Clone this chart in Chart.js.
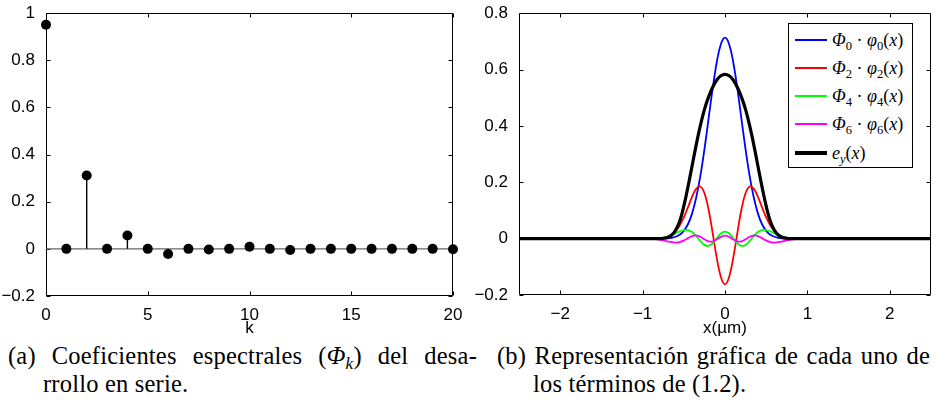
<!DOCTYPE html>
<html>
<head>
<meta charset="utf-8">
<script src="https://cdn.jsdelivr.net/npm/chart.js@4.4.1/dist/chart.umd.min.js"></script>
<style>
    body { margin: 0; width: 938px; height: 417px; background: #fff; position: relative; overflow: hidden; }
    #chartA { position: absolute; left: 0; top: 0; }
    #chartB { position: absolute; left: 470px; top: 0; }
    .cap { position: absolute; font-family: "Liberation Serif", serif; font-size: 24.5px; line-height: 27px; letter-spacing: 0.2px; color: #000; white-space: nowrap; }
    .cap.full { text-align: justify; text-align-last: justify; white-space: normal; height: 27px; overflow: visible; }
    .cap sub, #legend sub { font-size: 70%; vertical-align: -0.28em; line-height: 0; }
    #legend { position: absolute; left: 788px; top: 23px; width: 125px; height: 145px; box-sizing: border-box;
              border: 1px solid #000; background: #fff; font-family: "Liberation Serif", serif; font-size: 18px; }
    #legend .row { position: absolute; left: 0; height: 20px; line-height: 20px; white-space: nowrap; }
    #legend .swatch { position: absolute; left: 6px; width: 32px; top: 50%; }
    #legend .label { position: absolute; left: 43px; top: 0; }
</style>
</head>
<body>
<canvas id="chartA" width="470" height="340"></canvas>
<canvas id="chartB" width="468" height="340"></canvas>
<div id="legend"></div>

<div class="cap full" style="left:8px; top:342px; width:469px;">(a) Coeficientes espectrales (<i>Φ<sub>k</sub></i>) del desa-</div>
<div class="cap" style="left:43px; top:370px;">rrollo en serie.</div>
<div class="cap full" style="left:497px; top:342px; width:433px;">(b) Representación gráfica de cada uno de</div>
<div class="cap" style="left:533px; top:370px;">los términos de (1.2).</div>

<script>
// Panel (a): spectral coefficients
const kValues = [0, 1, 2, 3, 4, 5, 6, 7, 8, 9, 10, 11, 12, 13, 14, 15, 16, 17, 18, 19, 20];
const coeffs = [0.951, 0, 0.311, 0, 0.057, 0, -0.022, 0, -0.003, 0, 0.009, 0, -0.005, 0, 0, 0, 0, 0, 0, 0, -0.002];
const xTicksA = [0, 5, 10, 15, 20];
const xLabelsA = ['0', '5', '10', '15', '20'];
const yTicksA = [-0.2, 0, 0.2, 0.4, 0.6, 0.8, 1];
const yLabelsA = ['\u22120.2', '0', '0.2', '0.4', '0.6', '0.8', '1'];

// Panel (b): terms of the series
const xPos = [-2.5, -1.0, -0.9, -0.85, -0.8, -0.75, -0.7, -0.65, -0.6, -0.55, -0.5, -0.45, -0.4, -0.35, -0.3, -0.25, -0.2, -0.15, -0.1, -0.05,
              0, 0.05, 0.1, 0.15, 0.2, 0.25, 0.3, 0.35, 0.4, 0.45, 0.5, 0.55, 0.6, 0.65, 0.7, 0.75, 0.8, 0.85, 0.9, 1.0, 2.5];
const term0 = [0, 0, 0, 0.0001, 0.0002, 0.0005, 0.0012, 0.0029, 0.0066, 0.0139, 0.0275, 0.0511, 0.0888, 0.145, 0.221, 0.316, 0.424, 0.532, 0.626, 0.690,
               0.713, 0.690, 0.626, 0.532, 0.424, 0.316, 0.221, 0.145, 0.0888, 0.0511, 0.0275, 0.0139, 0.0066, 0.0029, 0.0012, 0.0005, 0.0002, 0.0001, 0, 0, 0];
const term2 = [0, 0, 0.0002, 0.0005, 0.0013, 0.0030, 0.0067, 0.0139, 0.0265, 0.0466, 0.0752, 0.1108, 0.1480, 0.1768, 0.1850, 0.1619, 0.1042, 0.0207, -0.0682, -0.1364,
               -0.162, -0.1364, -0.0682, 0.0207, 0.1042, 0.1619, 0.1850, 0.1768, 0.1480, 0.1108, 0.0752, 0.0466, 0.0265, 0.0139, 0.0067, 0.0030, 0.0013, 0.0005, 0.0002, 0, 0];
const term4 = [0, 0, 0.0003, 0.0008, 0.0018, 0.0038, 0.0071, 0.0122, 0.0187, 0.0256, 0.0306, 0.0306, 0.0235, 0.0092, -0.0082, -0.0221, -0.0257, -0.0166, 0.0011, 0.0182,
               0.0252, 0.0182, 0.0011, -0.0166, -0.0257, -0.0221, -0.0082, 0.0092, 0.0235, 0.0306, 0.0306, 0.0256, 0.0187, 0.0122, 0.0071, 0.0038, 0.0018, 0.0008, 0.0003, 0, 0];
const term6 = [0, 0, -0.0009, -0.0019, -0.0037, -0.0063, -0.0095, -0.0125, -0.0138, -0.0120, -0.0063, 0.0018, 0.0090, 0.0112, 0.0066, -0.0022, -0.0094, -0.0098, -0.0028, 0.0064,
               0.0105, 0.0064, -0.0028, -0.0098, -0.0094, -0.0022, 0.0066, 0.0112, 0.0090, 0.0018, -0.0063, -0.0120, -0.0138, -0.0125, -0.0095, -0.0063, -0.0037, -0.0019, -0.0009, 0, 0];
const eyField = [0, 0, 0, 0, 0, 0.001, 0.004, 0.012, 0.030, 0.062, 0.115, 0.183, 0.257, 0.332, 0.400, 0.458, 0.502, 0.537, 0.563, 0.578,
                 0.583, 0.578, 0.563, 0.537, 0.502, 0.458, 0.400, 0.332, 0.257, 0.183, 0.115, 0.062, 0.030, 0.012, 0.004, 0.001, 0, 0, 0, 0, 0];
const xTicksB = [-2, -1, 0, 1, 2];
const xLabelsB = ['\u22122', '\u22121', '0', '1', '2'];
const yTicksB = [-0.2, 0, 0.2, 0.4, 0.6, 0.8];
const yLabelsB = ['\u22120.2', '0', '0.2', '0.4', '0.6', '0.8'];
const seriesNames = [
    '<i>Φ</i><sub>0</sub> · <i>φ</i><sub>0</sub>(<i>x</i>)',
    '<i>Φ</i><sub>2</sub> · <i>φ</i><sub>2</sub>(<i>x</i>)',
    '<i>Φ</i><sub>4</sub> · <i>φ</i><sub>4</sub>(<i>x</i>)',
    '<i>Φ</i><sub>6</sub> · <i>φ</i><sub>6</sub>(<i>x</i>)',
    '<i>e<sub>y</sub></i>(<i>x</i>)'
];
const seriesColors = ['#0000ff', '#ff0000', '#00ff00', '#ff00ff', '#000000'];

const tickFont = { family: '"Liberation Sans", Arial, sans-serif', size: 17 };

// box around the plot with inward ticks on all sides (MATLAB look)
const framePlugin = {
    id: 'frame',
    beforeDatasetsDraw(chart) {
        const { ctx, chartArea: a, scales } = chart;
        const L = Math.round(a.left) + 0.5, R = Math.round(a.right) - 0.5;
        const T = Math.round(a.top) + 0.5, B = Math.round(a.bottom) - 0.5;
        ctx.save();
        ctx.strokeStyle = '#000';
        ctx.lineWidth = 1;
        ctx.beginPath();
        ctx.rect(L, T, R - L, B - T);
        scales.x.ticks.forEach(t => {
            const px = Math.round(scales.x.getPixelForValue(t.value)) + 0.5;
            ctx.moveTo(px, B); ctx.lineTo(px, B - 4);
            ctx.moveTo(px, T); ctx.lineTo(px, T + 4);
        });
        scales.y.ticks.forEach(t => {
            const py = Math.round(scales.y.getPixelForValue(t.value)) + 0.5;
            ctx.moveTo(L, py); ctx.lineTo(L + 4, py);
            ctx.moveTo(R, py); ctx.lineTo(R - 4, py);
        });
        ctx.stroke();
        ctx.restore();
    }
};

function makeScale(min, max, tickVals, tickLabels, fitSize, isX, title) {
    return {
        type: 'linear',
        min: min,
        max: max,
        grid: { display: false },
        border: { display: false },
        afterBuildTicks: s => { s.ticks = tickVals.map(v => ({ value: v })); },
        afterFit: s => { if (isX) s.height = fitSize; else s.width = fitSize; },
        ticks: {
            color: '#000',
            font: tickFont,
            padding: isX ? 1 : 3,
            autoSkip: false,
            maxRotation: 0,
            callback: (v, i) => tickLabels[i]
        },
        title: title ? { display: true, text: title, color: '#000', font: tickFont, padding: { top: 0, bottom: 1 } } : { display: false }
    };
}

// stems: vertical segment from 0 to each coefficient, broken by nulls
const stemPoints = [];
kValues.forEach((k, i) => {
    if (coeffs[i] !== 0) {
        stemPoints.push({ x: k, y: 0 }, { x: k, y: coeffs[i] }, { x: k, y: null });
    }
});

new Chart(document.getElementById('chartA'), {
    type: 'scatter',
    data: {
        datasets: [{
            data: kValues.map((k, i) => ({ x: k, y: coeffs[i] })),
            pointRadius: 5,
            pointBackgroundColor: '#000',
            pointBorderWidth: 0,
            showLine: false,
            clip: false,
            order: 0
        }, {
            data: stemPoints,
            showLine: true,
            spanGaps: false,
            borderColor: '#000',
            borderWidth: 1.4,
            pointRadius: 0,
            order: 1
        }, {
            data: [{ x: kValues[0], y: 0 }, { x: kValues[kValues.length - 1], y: 0 }],
            showLine: true,
            borderColor: '#666',
            borderWidth: 1.2,
            pointRadius: 0,
            order: 2
        }]
    },
    options: {
        responsive: false,
        animation: false,
        layout: { padding: { top: 10, right: 17, left: 0, bottom: 0 } },
        plugins: { legend: { display: false }, tooltip: { enabled: false } },
        scales: {
            x: makeScale(0, 20, xTicksA, xLabelsA, 44, true, 'k'),
            y: makeScale(-0.2, 1, yTicksA, yLabelsA, 46, false, null)
        }
    },
    plugins: [framePlugin]
});

const terms = [term0, term2, term4, term6, eyField];
new Chart(document.getElementById('chartB'), {
    type: 'scatter',
    data: {
        datasets: terms.map((arr, j) => ({
            data: xPos.map((x, i) => ({ x: x, y: arr[i] })),
            showLine: true,
            borderColor: seriesColors[j],
            borderWidth: j === 4 ? 3.2 : 1.8,
            pointRadius: 0,
            tension: 0.4,
            order: 5 - j
        }))
    },
    options: {
        responsive: false,
        animation: false,
        layout: { padding: { top: 11, right: 7, left: 0, bottom: 0 } },
        plugins: { legend: { display: false }, tooltip: { enabled: false } },
        scales: {
            x: makeScale(-2.5, 2.5, xTicksB, xLabelsB, 45, true, 'x(\u00b5m)'),
            y: makeScale(-0.2, 0.8, yTicksB, yLabelsB, 49, false, null)
        }
    },
    plugins: [framePlugin]
});

// legend box
const legend = document.getElementById('legend');
const rowCenters = [16, 44, 72, 100, 129];
seriesNames.forEach((name, j) => {
    const row = document.createElement('div');
    row.className = 'row';
    row.style.top = (rowCenters[j] - 10) + 'px';
    row.style.width = '120px';
    const sw = document.createElement('div');
    sw.className = 'swatch';
    const h = j === 4 ? 3.5 : 2;
    sw.style.height = h + 'px';
    sw.style.marginTop = (-h / 2) + 'px';
    sw.style.background = seriesColors[j];
    const lab = document.createElement('div');
    lab.className = 'label';
    lab.innerHTML = name;
    row.appendChild(sw);
    row.appendChild(lab);
    legend.appendChild(row);
});
</script>
</body>
</html>
